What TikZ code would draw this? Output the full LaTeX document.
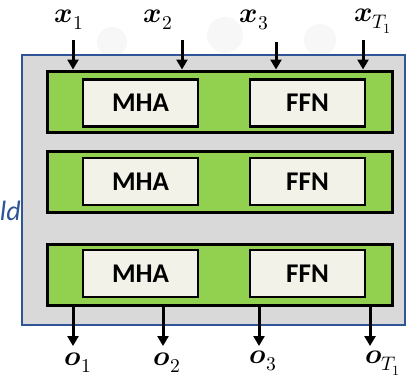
\documentclass[tikz,border=0pt]{standalone}
\usepackage{fontspec}
\setmainfont{Carlito}
\usepackage{amsmath}
\usepackage{unicode-math}
\setmathfont{Latin Modern Math}
\usetikzlibrary{arrows.meta}
\definecolor{bandgreen}{HTML}{92D050}
\definecolor{cream}{HTML}{F2F2E8}
\definecolor{outergray}{HTML}{D9D9D9}
\definecolor{outerblue}{HTML}{2F5597}
\definecolor{wm}{HTML}{F7F7F7}
\tikzset{
  band/.style={draw=black, line width=3pt, fill=bandgreen, minimum width=345pt, minimum height=61pt, inner sep=0pt},
  blk/.style={draw=black, line width=2.6pt, fill=cream, minimum width=115pt, minimum height=47pt, inner sep=0pt, font=\fontsize{27}{29}\selectfont\bfseries},
  io/.style={-{Triangle[length=10pt,width=11pt]}, line width=3pt},
  lbl/.style={inner sep=0pt, font=\fontsize{28}{30}\selectfont}
}
\begin{document}
\begin{tikzpicture}[x=1pt,y=-1pt]
\useasboundingbox (0,0) rectangle (411,381);
% faint watermark blobs
\fill[wm] (112,42) circle (15);
\fill[wm] (225,35) circle (18);
\fill[wm] (320,40) circle (16);
% outer block
\node[draw=outerblue, line width=2.2pt, fill=outergray, minimum width=383pt, minimum height=270pt, inner sep=0pt] (outer) at (213.5,190) {};
% partial text
\node[anchor=east, inner sep=0pt, text=outerblue, font=\fontsize{28}{30}\selectfont\itshape] (ld) at (21,211) {ld};
% bands
\node[band] (b1) at (219.5,101.5) {};
\node[band] (b2) at (219.5,181.5) {};
\node[band] (b3) at (219.5,275) {};
% blocks
\node[blk] (m1) at (140.5,103) {MHA};
\node[blk] (f1) at (307.5,103) {FFN};
\node[blk] (m2) at (140.5,181.5) {MHA};
\node[blk] (f2) at (307.5,181.5) {FFN};
\node[blk] (m3) at (140.5,273.5) {MHA};
\node[blk] (f3) at (307.5,273.5) {FFN};
% input labels
\node[lbl] (x1) at (69,20) {$\symbfit{x}_1$};
\node[lbl] (x2) at (158,20) {$\symbfit{x}_2$};
\node[lbl] (x3) at (254,20) {$\symbfit{x}_3$};
\node[lbl] (xT) at (373,21) {$\symbfit{x}_{T_1}$};
\coordinate (i1) at (73,40);
\coordinate (i2) at (182,40);
\coordinate (i3) at (276,42);
\coordinate (i4) at (363,40);
\draw[io] (i1) -- (i1 |- b1.north);
\draw[io] (i2) -- (i2 |- b1.north);
\draw[io] (i3) -- (i3 |- b1.north);
\draw[io] (i4) -- (i4 |- b1.north);
% outputs
\coordinate (e1) at (73,346);
\coordinate (e2) at (163,346);
\coordinate (e3) at (259,346);
\coordinate (e4) at (370,346);
\draw[io] (e1 |- b3.south) -- (e1);
\draw[io] (e2 |- b3.south) -- (e2);
\draw[io] (e3 |- b3.south) -- (e3);
\draw[io] (e4 |- b3.south) -- (e4);
\node[lbl] (o1) at (78,363) {$\symbfit{o}_1$};
\node[lbl] (o2) at (167,363) {$\symbfit{o}_2$};
\node[lbl] (o3) at (263,361) {$\symbfit{o}_3$};
\node[lbl] (oT) at (383,363) {$\symbfit{o}_{T_1}$};
\end{tikzpicture}
\end{document}
